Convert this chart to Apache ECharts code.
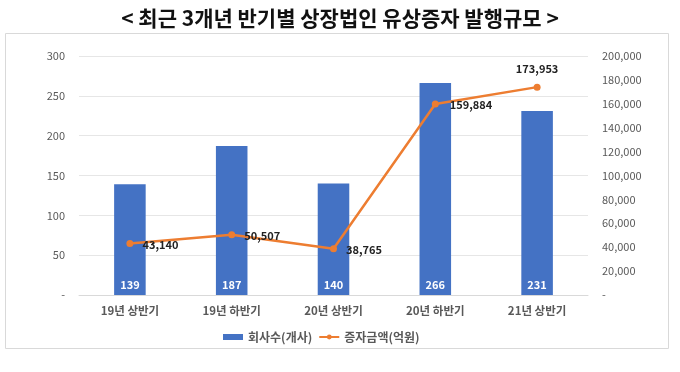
<!DOCTYPE html>
<html><head><meta charset="utf-8">
<script src="https://cdn.jsdelivr.net/npm/echarts@6/dist/echarts.min.js"></script>
<style>html,body{margin:0;padding:0;background:#fff}#c{width:680px;height:372px}</style>
</head><body><div id="c"></div>
<script>
const categories = ['19년 상반기','19년 하반기','20년 상반기','20년 하반기','21년 상반기'];
const companyCounts = [139, 187, 140, 266, 231];
const issueAmounts = [43140, 50507, 38765, 159884, 173953];
const seriesNames = ['회사수(개사)', '증자금액(억원)'];
const titleText = '< 최근 3개년 반기별 상장법인 유상증자 발행규모 >';

const labelPos = ['right','right','right','right','top'];
const labelOffset = [[0,1],[0,1],[0,1],[2,1],[0,0]];
const font = '"Noto Sans CJK KR", "Noto Sans", sans-serif';
const chart = echarts.init(document.getElementById('c'), null, {renderer:'canvas'});
chart.setOption({
  animation:false,
  textStyle:{fontFamily:font},
  title:{text:titleText,left:'center',top:3,textStyle:{fontSize:21,fontWeight:'bold',color:'#111',fontFamily:font}},
  graphic:[{type:'rect',shape:{x:5.5,y:33.5,width:663,height:315},style:{fill:'none',stroke:'#d9d9d9',lineWidth:1},z:-1}],
  grid:{left:79,right:92,top:56,bottom:77},
  legend:{top:326,left:218,itemGap:6,itemWidth:20,itemHeight:6,
    textStyle:{fontSize:12,color:'#595959',fontWeight:'bold',fontFamily:font},
    data:[{name:seriesNames[0],icon:'rect'},{name:seriesNames[1]}]},
  xAxis:{type:'category',data:categories,axisTick:{show:false},
    axisLine:{lineStyle:{color:'#d9d9d9'}},
    axisLabel:{color:'#595959',fontSize:11.5,fontWeight:'bold',margin:10,fontFamily:font}},
  yAxis:[
    {type:'value',min:0,max:300,interval:50,
     axisLabel:{color:'#595959',fontSize:11,margin:14,formatter:v=>v===0?'-':v},
     splitLine:{lineStyle:{color:'#e6e6e6'}},axisLine:{show:false},axisTick:{show:false}},
    {type:'value',min:0,max:200000,interval:20000,
     axisLabel:{color:'#595959',fontSize:11,margin:14,formatter:v=>v===0?'-':v.toLocaleString('en-US')},
     splitLine:{show:false},axisLine:{show:false},axisTick:{show:false}}
  ],
  series:[
    {name:seriesNames[0],type:'bar',data:companyCounts,barWidth:'31%',
     itemStyle:{color:'#4472C4'},
     label:{show:true,position:'insideBottom',distance:5,color:'#fff',fontWeight:'bold',fontSize:11,fontFamily:font}},
    {name:seriesNames[1],type:'line',yAxisIndex:1,
     data:issueAmounts.map((v,i)=>({value:v,label:{position:labelPos[i],offset:labelOffset[i]}})),
     symbol:'circle',symbolSize:7,
     itemStyle:{color:'#ED7D31'},lineStyle:{color:'#ED7D31',width:2.5},
     label:{show:true,color:'#222',fontWeight:'bold',fontSize:11,distance:9,
       formatter:p=>p.value.toLocaleString('en-US'),fontFamily:font}}
  ]
});
</script></body></html>
